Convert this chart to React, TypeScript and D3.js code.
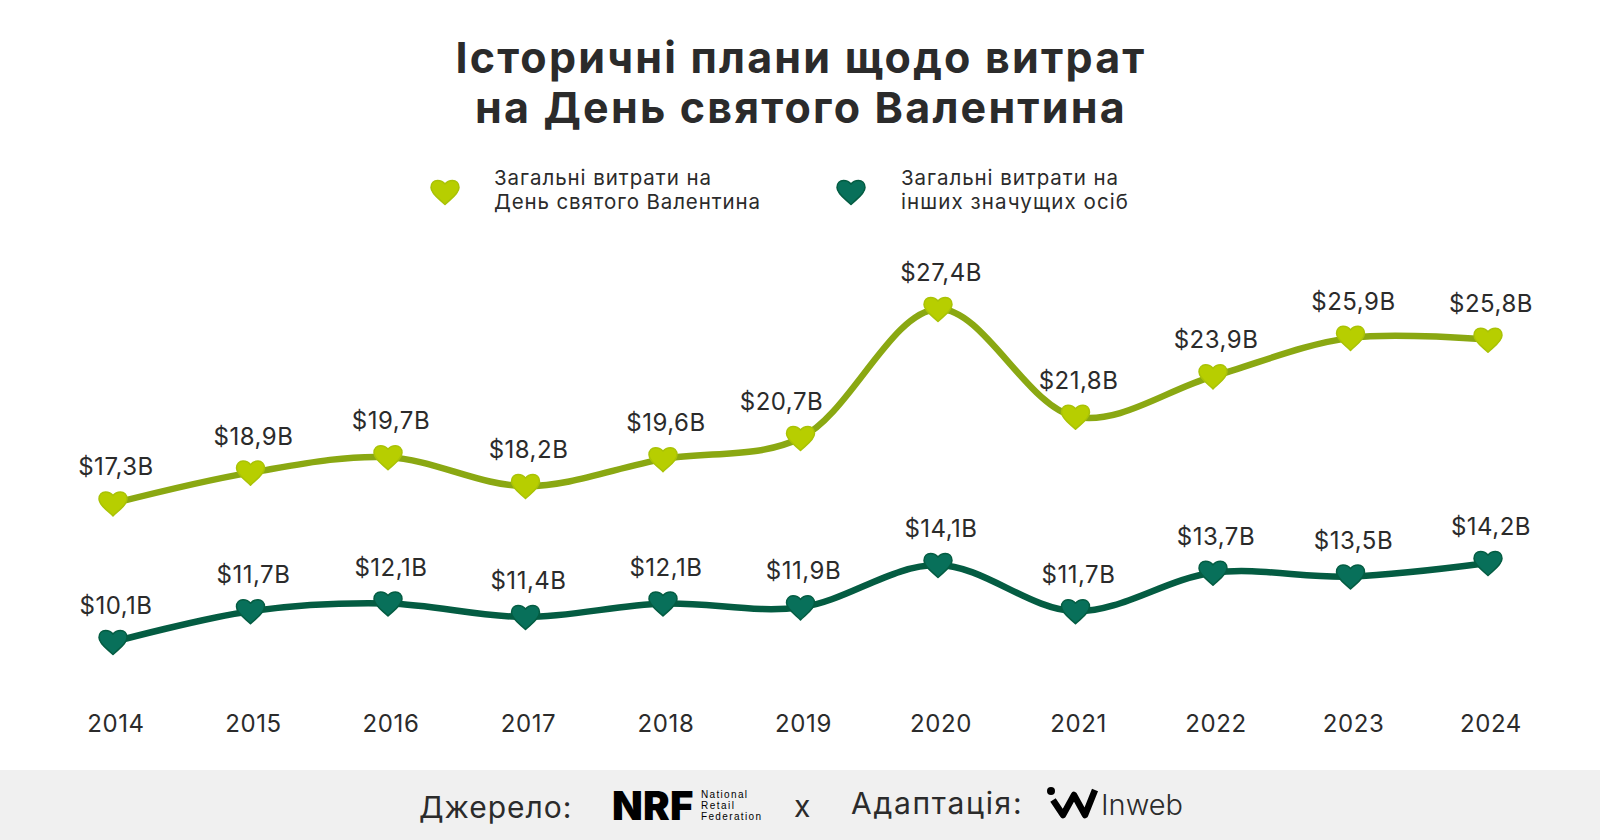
import React from 'react';
import * as d3 from 'd3';

const years = [2014, 2015, 2016, 2017, 2018, 2019, 2020, 2021, 2022, 2023, 2024];
const totalSpend = [17.3, 18.9, 19.7, 18.2, 19.6, 20.7, 27.4, 21.8, 23.9, 25.9, 25.8];
const partnerSpend = [10.1, 11.7, 12.1, 11.4, 12.1, 11.9, 14.1, 11.7, 13.7, 13.5, 14.2];
const titleLines = ['Історичні плани щодо витрат', 'на День святого Валентина'];
const totalLegend = ['Загальні витрати на', 'День святого Валентина'];
const partnerLegend = ['Загальні витрати на', 'інших значущих осіб'];
const nrfLines = ['National', 'Retail', 'Federation'];

const WIDTH = 1600;
const HEIGHT = 840;
const FONT = 'Inter, "Noto Sans", sans-serif';
const TEXT = '#2b2b2b';

const LIGHT_LINE = '#8aa812';
const LIGHT_HEART = '#b7ce00';
const LIGHT_EDGE = '#a9c206';
const DARK_LINE = '#045c42';
const DARK_HEART = '#08705a';

const x = d3.scaleLinear().domain([2014, 2024]).range([113, 1488]);
const y = d3.scaleLinear().domain([10.1, 27.4]).range([642, 309]);

const line = d3.line<number>()
    .x((_, i) => x(years[i]))
    .y(d => y(d))
    .curve(d3.curveCatmullRom.alpha(0.5));

const formatValue = (v: number) => `$${v.toFixed(1).replace('.', ',')}B`;

// heart centred on 0,0, about 30px wide
const Heart: React.FC<{ cx: number; cy: number; fill: string; stroke: string }> = ({ cx, cy, fill, stroke }) => (
    <path
        transform={`translate(${cx},${cy})`}
        d="M0,12.5 C-5,7.5 -14,2 -14,-4.5 C-14,-9 -11,-11.5 -7.5,-11.5 C-4.5,-11.5 -1.5,-10 0,-8 C1.5,-10 4.5,-11.5 7.5,-11.5 C11,-11.5 14,-9 14,-4.5 C14,2 5,7.5 0,12.5 Z"
        fill={fill}
        stroke={stroke}
        strokeWidth={1.5}
        strokeLinejoin="round"
    />
);

const Series: React.FC<{ values: number[]; lineColor: string; heart: string; heartStroke: string; labelGap: number; shift2019: number }> = ({
    values, lineColor, heart, heartStroke, labelGap, shift2019
}) => (
    <g>
        <path d={line(values) ?? ''} fill="none" stroke={lineColor} strokeWidth={6.5} strokeLinecap="round" />
        {values.map((v, i) => (
            <Heart key={years[i]} cx={x(years[i])} cy={y(v)} fill={heart} stroke={heartStroke} />
        ))}
        {values.map((v, i) => (
            <text
                key={years[i]}
                x={x(years[i]) + 3 - (years[i] === 2019 ? shift2019 : 0)}
                y={y(v) - labelGap}
                textAnchor="middle"
                fontSize={24}
                letterSpacing={0.5}
                fill={TEXT}
            >
                {formatValue(v)}
            </text>
        ))}
    </g>
);

const legendWidths = [217, 266];
const partnerWidths = [217, 227];
const nrfWidths = [46, 33, 60];

const App: React.FC = () => (
    <svg
        width={WIDTH}
        height={HEIGHT}
        viewBox={`0 0 ${WIDTH} ${HEIGHT}`}
        style={{ position: 'absolute', left: 0, top: 0, background: '#fff', fontFamily: FONT }}
    >
        {titleLines.map((t, i) => (
            <text key={t} x={801} y={73 + i * 50} textAnchor="middle" fontSize={43} fontWeight={700} letterSpacing={2.2} fill={TEXT}>
                {t}
            </text>
        ))}

        {/* Legend */}
        <Heart cx={445} cy={192} fill={LIGHT_HEART} stroke={LIGHT_EDGE} />
        {totalLegend.map((t, i) => (
            <text key={t} x={494} y={185 + i * 24} fontSize={20.5} textLength={legendWidths[i]} fill={TEXT}>{t}</text>
        ))}
        <Heart cx={851} cy={192} fill={DARK_HEART} stroke={DARK_LINE} />
        {partnerLegend.map((t, i) => (
            <text key={t} x={901} y={185 + i * 24} fontSize={20.5} textLength={partnerWidths[i]} fill={TEXT}>{t}</text>
        ))}

        <Series values={totalSpend} lineColor={LIGHT_LINE} heart={LIGHT_HEART} heartStroke={LIGHT_EDGE} labelGap={28} shift2019={22} />
        <Series values={partnerSpend} lineColor={DARK_LINE} heart={DARK_HEART} heartStroke={DARK_LINE} labelGap={28} shift2019={0} />

        {/* Year labels */}
        {years.map(yr => (
            <text key={yr} x={x(yr) + 3} y={732} textAnchor="middle" fontSize={24} letterSpacing={0.6} fill={TEXT}>{yr}</text>
        ))}

        {/* Footer */}
        <rect x={0} y={770} width={WIDTH} height={70} fill="#f0f0f0" />
        <text x={419} y={818} fontSize={30} letterSpacing={1} fill={TEXT}>Джерело:</text>
        <text x={612} y={820} fontSize={40} fontWeight={900} fill="#000" letterSpacing={0.3}>NRF</text>
        {nrfLines.map((t, i) => (
            <text key={t} x={701} y={798 + i * 11.2} fontFamily='"Liberation Sans", sans-serif' fontSize={10} textLength={nrfWidths[i]} fill="#000">{t}</text>
        ))}
        <text x={794} y={817} fontSize={30} fill={TEXT}>x</text>
        <text x={851} y={814} fontSize={30} letterSpacing={1.7} fill={TEXT}>Адаптація:</text>
        <circle cx={1051} cy={791} r={4} fill="#000" />
        <path d="M1053,800 L1063,815 L1074,795 L1085,815 L1095,790" fill="none" stroke="#000" strokeWidth={6.5} strokeLinejoin="round" />
        <text x={1101} y={815} fontSize={29} fontWeight={300} fill={TEXT}>Inweb</text>
    </svg>
);

export default App;
